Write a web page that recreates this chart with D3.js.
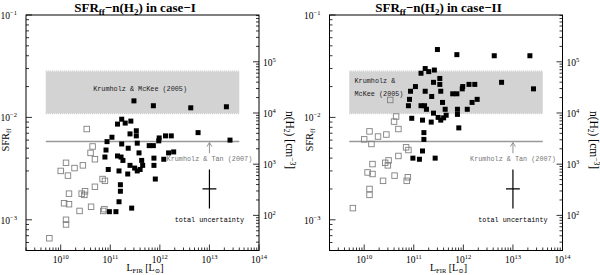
<!DOCTYPE html>
<html>
<head>
<meta charset="utf-8">
<script src="https://cdn.jsdelivr.net/npm/d3@7"></script>
<style>
  body { margin: 0; background: #fff; }
  svg { display: block; font-family: 'Liberation Serif', 'DejaVu Serif', serif; }
  .note { font-family: 'Liberation Mono', 'DejaVu Sans Mono', monospace; }
</style>
</head>
<body>
<svg id="chart" width="600" height="275"></svg>
<script>
// FIR luminosity (L_sun) of the filled (black) galaxies, same in both cases
const lirFilled = [3.0e11, 7.4e11, 4.2e12, 2.2e13, 1.7e11, 1.4e11, 2.0e11, 2.6e11, 2.5e11, 3.35e11,
  3.35e11, 1.08e11, 9.7e11, 1.3e12, 1.7e12, 5.9e12, 2.6e13, 8.6e10, 1.7e11, 2.3e11,
  3.5e11, 9.5e11, 6.1e11, 7.4e11, 8.2e10, 7.8e10, 1.4e11, 1.65e11, 3.8e11, 1.8e11,
  4.3e11, 7.6e11, 1.2e12, 1.5e12, 1.9e12, 2.5e11, 3.1e11, 3.5e11, 4.0e11, 4.5e11,
  7.6e11, 9.1e10, 1.5e11, 2.25e11, 8.1e11, 1.6e11, 1.6e11, 1.5e11, 9.6e10, 1.3e11, 2.7e11];
const sfrFilledCaseI = [0.0145, 0.0130, 0.0124, 0.0127, 0.0096, 0.0086, 0.0088, 0.0092, 0.0069, 0.0074,
  0.0066, 0.0064, 0.0063, 0.0066, 0.0066, 0.0071, 0.0060, 0.0058, 0.0055, 0.0050,
  0.0056, 0.0059, 0.0053, 0.0053, 0.0048, 0.0041, 0.0042, 0.0041, 0.0045, 0.0038,
  0.0038, 0.0040, 0.0039, 0.0045, 0.0046, 0.0034, 0.0032, 0.0030, 0.0031, 0.0034,
  0.0034, 0.0031, 0.0030, 0.0028, 0.0025, 0.0022, 0.0019, 0.0015, 0.0012, 0.0012, 0.0013];
const sfrFilledCaseII = [0.046, 0.041, 0.040, 0.040, 0.030, 0.027, 0.028, 0.029, 0.022, 0.024,
  0.021, 0.020, 0.020, 0.021, 0.021, 0.022, 0.019, 0.018, 0.018, 0.016,
  0.018, 0.019, 0.017, 0.017, 0.015, 0.013, 0.013, 0.013, 0.014, 0.012,
  0.012, 0.012, 0.012, 0.014, 0.015, 0.011, 0.010, 0.0094, 0.0099, 0.0105,
  0.0107, 0.0098, 0.0094, 0.0090, 0.0079, 0.0071, 0.0061, 0.0047, 0.0040, 0.0039, 0.0040];

// open (grey) galaxies
const lirOpen = [3.35e10, 4.4e10, 4.0e10, 4.9e10, 1.28e10, 1.9e10, 2.8e10, 1.0e10, 1.4e10, 7.0e10,
  7.8e10, 4.9e10, 1.47e10, 2.65e10, 3.1e10, 3.0e10, 1.17e10, 1.47e10, 4.1e10, 2.4e10,
  7.6e10, 7.2e10, 1.28e10, 1.28e10, 5.9e9];
const sfrOpenCaseI = [0.0077, 0.0052, 0.0045, 0.0039, 0.0036, 0.0032, 0.0034, 0.0030, 0.0027, 0.0025,
  0.0024, 0.0021, 0.0018, 0.0018, 0.0019, 0.00175, 0.00145, 0.00142, 0.00134, 0.00122,
  0.00127, 0.00122, 0.00100, 0.00090, 0.00066];
const sfrOpenCaseII = [0.0148, 0.0102, 0.0091, 0.0077, 0.0073, 0.0065, 0.0068, 0.0061, 0.0055, 0.0051,
  0.0048, 0.0042, 0.0035, 0.0036, 0.0038, 0.0034, 0.0029, 0.0028, 0.0027, 0.0024,
  0.0026, 0.0024, 0.0020, 0.00175, 0.0013];

// theory ranges
const mckeeBand = { lir: [5e9, 4e13], sfr: [0.011, 0.028] };
const tanLine = { lir: [5e9, 4e13], sfr: 0.0058 };
const uncertainty = { lir: 1e13, sfr: 0.002, dexX: 0.14, dexY: 0.19 };

const lirDomain = [Math.pow(10, 9.3), 1e14];
const sfrDomain = [Math.pow(10, -3.3), 0.1];
const nDomain = [Math.pow(10, 1.314), Math.pow(10, 5.914)]; // n(H2) matching sfrDomain

const xTicks = [1e10, 1e11, 1e12, 1e13, 1e14];
const yTicks = [1e-3, 1e-2, 1e-1];
const nTicks = [1e2, 1e3, 1e4, 1e5];

const svg = d3.select('#chart');
const plotW = 233;
const plotTop = 15;
const plotBottom = 250.5;

const panels = [
  { left: 26, caseName: 'I', filled: sfrFilledCaseI, open: sfrOpenCaseI },
  { left: 329.5, caseName: 'II', filled: sfrFilledCaseII, open: sfrOpenCaseII },
];

function logMinor(domain) {
  const out = [];
  for (let k = -5; k <= 15; k++) {
    for (let m = 1; m <= 9; m++) {
      const v = m * Math.pow(10, k);
      if (v >= domain[0] * 0.999 && v <= domain[1] * 1.001) out.push({ v, major: m === 1 });
    }
  }
  return out;
}

function powLabel(text, v, supSize) {
  const e = Math.round(Math.log10(v));
  text.append('tspan').text('10');
  text.append('tspan').attr('dy', -4).attr('font-size', supSize).text(String(e).replace('-', '\u2212'));
}

function drawPanel(p) {
  const x = d3.scaleLog(lirDomain, [p.left, p.left + plotW]);
  const y = d3.scaleLog(sfrDomain, [plotBottom, plotTop]);
  const yn = d3.scaleLog(nDomain, [plotBottom, plotTop]);
  const g = svg.append('g');
  const right = p.left + plotW;

  // McKee band
  g.append('rect')
    .attr('x', x(mckeeBand.lir[0]))
    .attr('width', x(mckeeBand.lir[1]) - x(mckeeBand.lir[0]))
    .attr('y', y(mckeeBand.sfr[1]))
    .attr('height', y(mckeeBand.sfr[0]) - y(mckeeBand.sfr[1]))
    .attr('fill', '#d3d3d3');
  mckeeBand.sfr.forEach((s) => {
    g.append('line')
      .attr('x1', x(mckeeBand.lir[0])).attr('x2', x(mckeeBand.lir[1]))
      .attr('y1', y(s) + (s === mckeeBand.sfr[0] ? 0.5 : -0.5))
      .attr('y2', y(s) + (s === mckeeBand.sfr[0] ? 0.5 : -0.5))
      .attr('stroke', '#b8b8b8').attr('stroke-dasharray', '1,1');
  });

  // Krumholz & Tan line
  g.append('line')
    .attr('x1', x(tanLine.lir[0])).attr('x2', x(tanLine.lir[1]))
    .attr('y1', y(tanLine.sfr)).attr('y2', y(tanLine.sfr))
    .attr('stroke', '#999').attr('stroke-width', 1.5);

  // arrow pointing at the line
  const ax = x(1e13);
  const ay = y(tanLine.sfr) + 1;
  g.append('path')
    .attr('d', `M${ax},${y(0.00446)}V${ay}M${ax - 2.5},${ay + 4}L${ax},${ay}L${ax + 2.5},${ay + 4}`)
    .attr('fill', 'none').attr('stroke', '#888').attr('stroke-width', 0.9);

  // open squares
  const so = 5.5;
  g.append('g').selectAll('rect')
    .data(lirOpen.map((l, i) => [l, p.open[i]]))
    .join('rect')
    .attr('x', (d) => x(d[0]) - so / 2)
    .attr('y', (d) => y(d[1]) - so / 2)
    .attr('width', so).attr('height', so)
    .attr('fill', 'none').attr('stroke', '#808080').attr('stroke-width', 0.9);

  // filled squares
  const sf = 5;
  g.append('g').selectAll('rect')
    .data(lirFilled.map((l, i) => [l, p.filled[i]]))
    .join('rect')
    .attr('x', (d) => x(d[0]) - sf / 2)
    .attr('y', (d) => y(d[1]) - sf / 2)
    .attr('width', sf).attr('height', sf)
    .attr('fill', '#000');

  // uncertainty cross
  const ux = x(uncertainty.lir);
  const uy = y(uncertainty.sfr);
  g.append('path')
    .attr('d', `M${ux},${y(uncertainty.sfr * Math.pow(10, uncertainty.dexY))}V${y(uncertainty.sfr / Math.pow(10, uncertainty.dexY))}`
      + `M${x(uncertainty.lir / Math.pow(10, uncertainty.dexX))},${uy}H${x(uncertainty.lir * Math.pow(10, uncertainty.dexX))}`)
    .attr('stroke', '#000').attr('stroke-width', 1.2);

  // frame
  g.append('rect')
    .attr('x', p.left).attr('y', plotTop)
    .attr('width', plotW).attr('height', plotBottom - plotTop)
    .attr('fill', 'none').attr('stroke', '#000').attr('stroke-width', 1);

  // bottom ticks
  g.append('g').selectAll('line')
    .data(logMinor(lirDomain))
    .join('line')
    .attr('x1', (d) => x(d.v)).attr('x2', (d) => x(d.v))
    .attr('y1', plotBottom).attr('y2', (d) => plotBottom - (d.major ? 6 : 3))
    .attr('stroke', '#000').attr('stroke-width', 0.8);
  // left ticks
  g.append('g').selectAll('line')
    .data(logMinor(sfrDomain))
    .join('line')
    .attr('y1', (d) => y(d.v)).attr('y2', (d) => y(d.v))
    .attr('x1', p.left).attr('x2', (d) => p.left + (d.major ? 6 : 3))
    .attr('stroke', '#000').attr('stroke-width', 0.8);
  // right ticks (n(H2))
  g.append('g').selectAll('line')
    .data(logMinor(nDomain))
    .join('line')
    .attr('y1', (d) => yn(d.v)).attr('y2', (d) => yn(d.v))
    .attr('x1', right).attr('x2', (d) => right - (d.major ? 6 : 3))
    .attr('stroke', '#000').attr('stroke-width', 0.8);

  // tick labels
  xTicks.forEach((v) => {
    g.append('text')
      .attr('x', x(v)).attr('y', 262.5)
      .attr('text-anchor', 'middle').attr('font-size', 9.5)
      .call((t) => powLabel(t, v, 6.5));
  });
  yTicks.forEach((v) => {
    g.append('text')
      .attr('x', p.left - 9).attr('y', y(v) + 4)
      .attr('text-anchor', 'end').attr('font-size', 9.5)
      .call((t) => powLabel(t, v, 6.5));
  });
  nTicks.forEach((v) => {
    g.append('text')
      .attr('x', right + 4).attr('y', yn(v) + 4)
      .attr('text-anchor', 'start').attr('font-size', 9.5)
      .call((t) => powLabel(t, v, 6.5));
  });

  // title
  const title = g.append('text')
    .attr('x', p.left + 109).attr('y', 12)
    .attr('text-anchor', 'middle').attr('font-size', 13).attr('font-weight', 'bold');
  title.append('tspan').text('SFR');
  title.append('tspan').attr('font-size', 9).attr('dy', 3).text('ff');
  title.append('tspan').attr('dy', -3).text('\u2212n(H');
  title.append('tspan').attr('font-size', 9).attr('dy', 3).text('2');
  title.append('tspan').attr('dy', -3).text(`) in case\u2212${p.caseName}`);

  // axis labels
  const xl = g.append('text')
    .attr('x', p.left + 119).attr('y', 271)
    .attr('text-anchor', 'middle').attr('font-size', 10);
  xl.append('tspan').text('L');
  xl.append('tspan').attr('font-size', 6.5).attr('dy', 2).text('FIR');
  xl.append('tspan').attr('dy', -2).text(' [L');
  xl.append('tspan').attr('font-size', 6.5).attr('dy', 2).text('\u2299');
  xl.append('tspan').attr('dy', -2).text(']');

  const yl = g.append('text')
    .attr('transform', `translate(${p.left - 17},140) rotate(-90)`)
    .attr('text-anchor', 'middle').attr('font-size', 10.5);
  yl.append('tspan').text('SFR');
  yl.append('tspan').attr('font-size', 7).attr('dy', 2).text('ff');

  const nl = g.append('text')
    .attr('transform', `translate(${right + 27},140) rotate(90)`)
    .attr('text-anchor', 'middle').attr('font-size', 11.5);
  nl.append('tspan').text('n(H');
  nl.append('tspan').attr('font-size', 7.5).attr('dy', 2).text('2');
  nl.append('tspan').attr('dy', -2).text(') [cm');
  nl.append('tspan').attr('font-size', 7.5).attr('dy', -4).text('\u22123');
  nl.append('tspan').attr('dy', 4).text(']');

  // annotations
  if (p.caseName === 'I') {
    g.append('text').attr('class', 'note')
      .attr('x', x(4e11)).attr('y', 91)
      .attr('text-anchor', 'middle').attr('font-size', 6.8).attr('fill', '#222')
      .text('Krumholz & McKee (2005)');
  } else {
    ['Krumholz &', 'McKee (2005)'].forEach((s, i) => {
      g.append('text').attr('class', 'note')
        .attr('x', p.left + 25).attr('y', 83 + i * 13)
        .attr('font-size', 6.8).attr('fill', '#222')
        .text(s);
    });
  }
  g.append('text').attr('class', 'note')
    .attr('x', x(1e13)).attr('y', 161)
    .attr('text-anchor', 'middle').attr('font-size', 6.8).attr('fill', '#777')
    .text('Krumholz & Tan (2007)');
  g.append('text').attr('class', 'note')
    .attr('x', x(1e13)).attr('y', 222)
    .attr('text-anchor', 'middle').attr('font-size', 6.8).attr('fill', '#000')
    .text('total uncertainty');
}

panels.forEach(drawPanel);
</script>
</body>
</html>
